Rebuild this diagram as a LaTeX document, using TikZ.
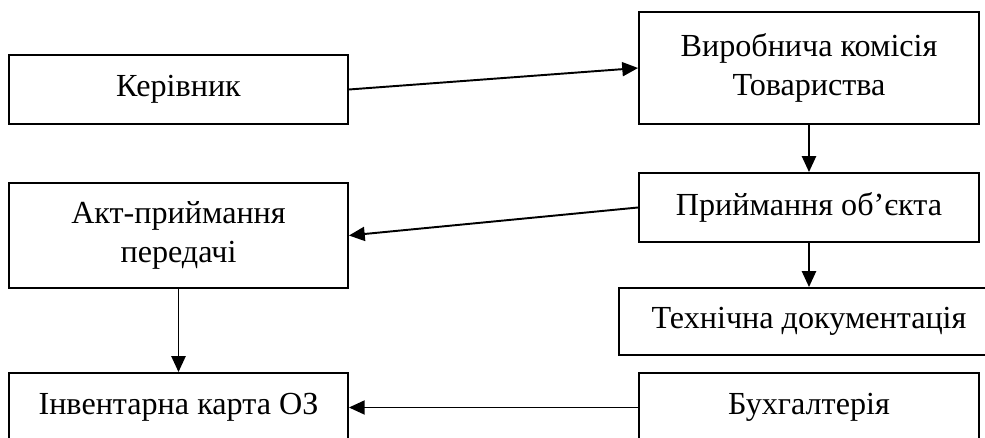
\documentclass[tikz,border=0pt]{standalone}
\usepackage{fontspec}
\setmainfont{Liberation Serif}
\usetikzlibrary{arrows.meta}

\tikzset{
  blok/.style={draw,line width=1.1pt,align=center,inner sep=2pt,
    font=\fontsize{18.3}{22}\selectfont},
  strilka/.style={line width=1.1pt,-{Triangle[length=9pt,width=8pt]}}
}

\begin{document}
\begin{tikzpicture}[x=0.02cm,y=-0.02cm]
        \useasboundingbox (0,0) rectangle (985,438);
        \node[blok,minimum width=6.78cm,minimum height=1.38cm] (kerivnyk) at (178.5,89.5) {Керівник};
        \node[blok,minimum width=6.8cm,minimum height=2.24cm] (komisiya) at (809,68) {Виробнича комісія\\Товариства};
        \node[blok,minimum width=6.8cm,minimum height=1.38cm] (pryimannya) at (809,207.5) {Приймання об’єкта};
        \node[blok,minimum width=6.78cm,minimum height=2.1cm] (akt) at (178.5,235.5) {Акт-приймання\\передачі};
        \node[blok,minimum width=7.6cm,minimum height=1.34cm] (dokum) at (809,321.5) {Технічна документація};
        \node[blok,minimum width=6.8cm,minimum height=1.38cm] (bukh) at (809,407.5) {Бухгалтерія};
        \node[blok,minimum width=6.78cm,minimum height=1.38cm] (karta) at (178.5,407.5) {Інвентарна карта ОЗ};
        \draw[strilka] (kerivnyk.east) -- (komisiya.west);
        \draw[strilka] (komisiya.south) -- (pryimannya.north);
        \draw[strilka] (pryimannya.west) -- (akt.east);
        \draw[strilka] (pryimannya.south) -- (dokum.north);
        \draw[strilka] (akt.south) -- (karta.north);
        \draw[strilka] (bukh.west) -- (karta.east);
    \end{tikzpicture}
\end{document}
